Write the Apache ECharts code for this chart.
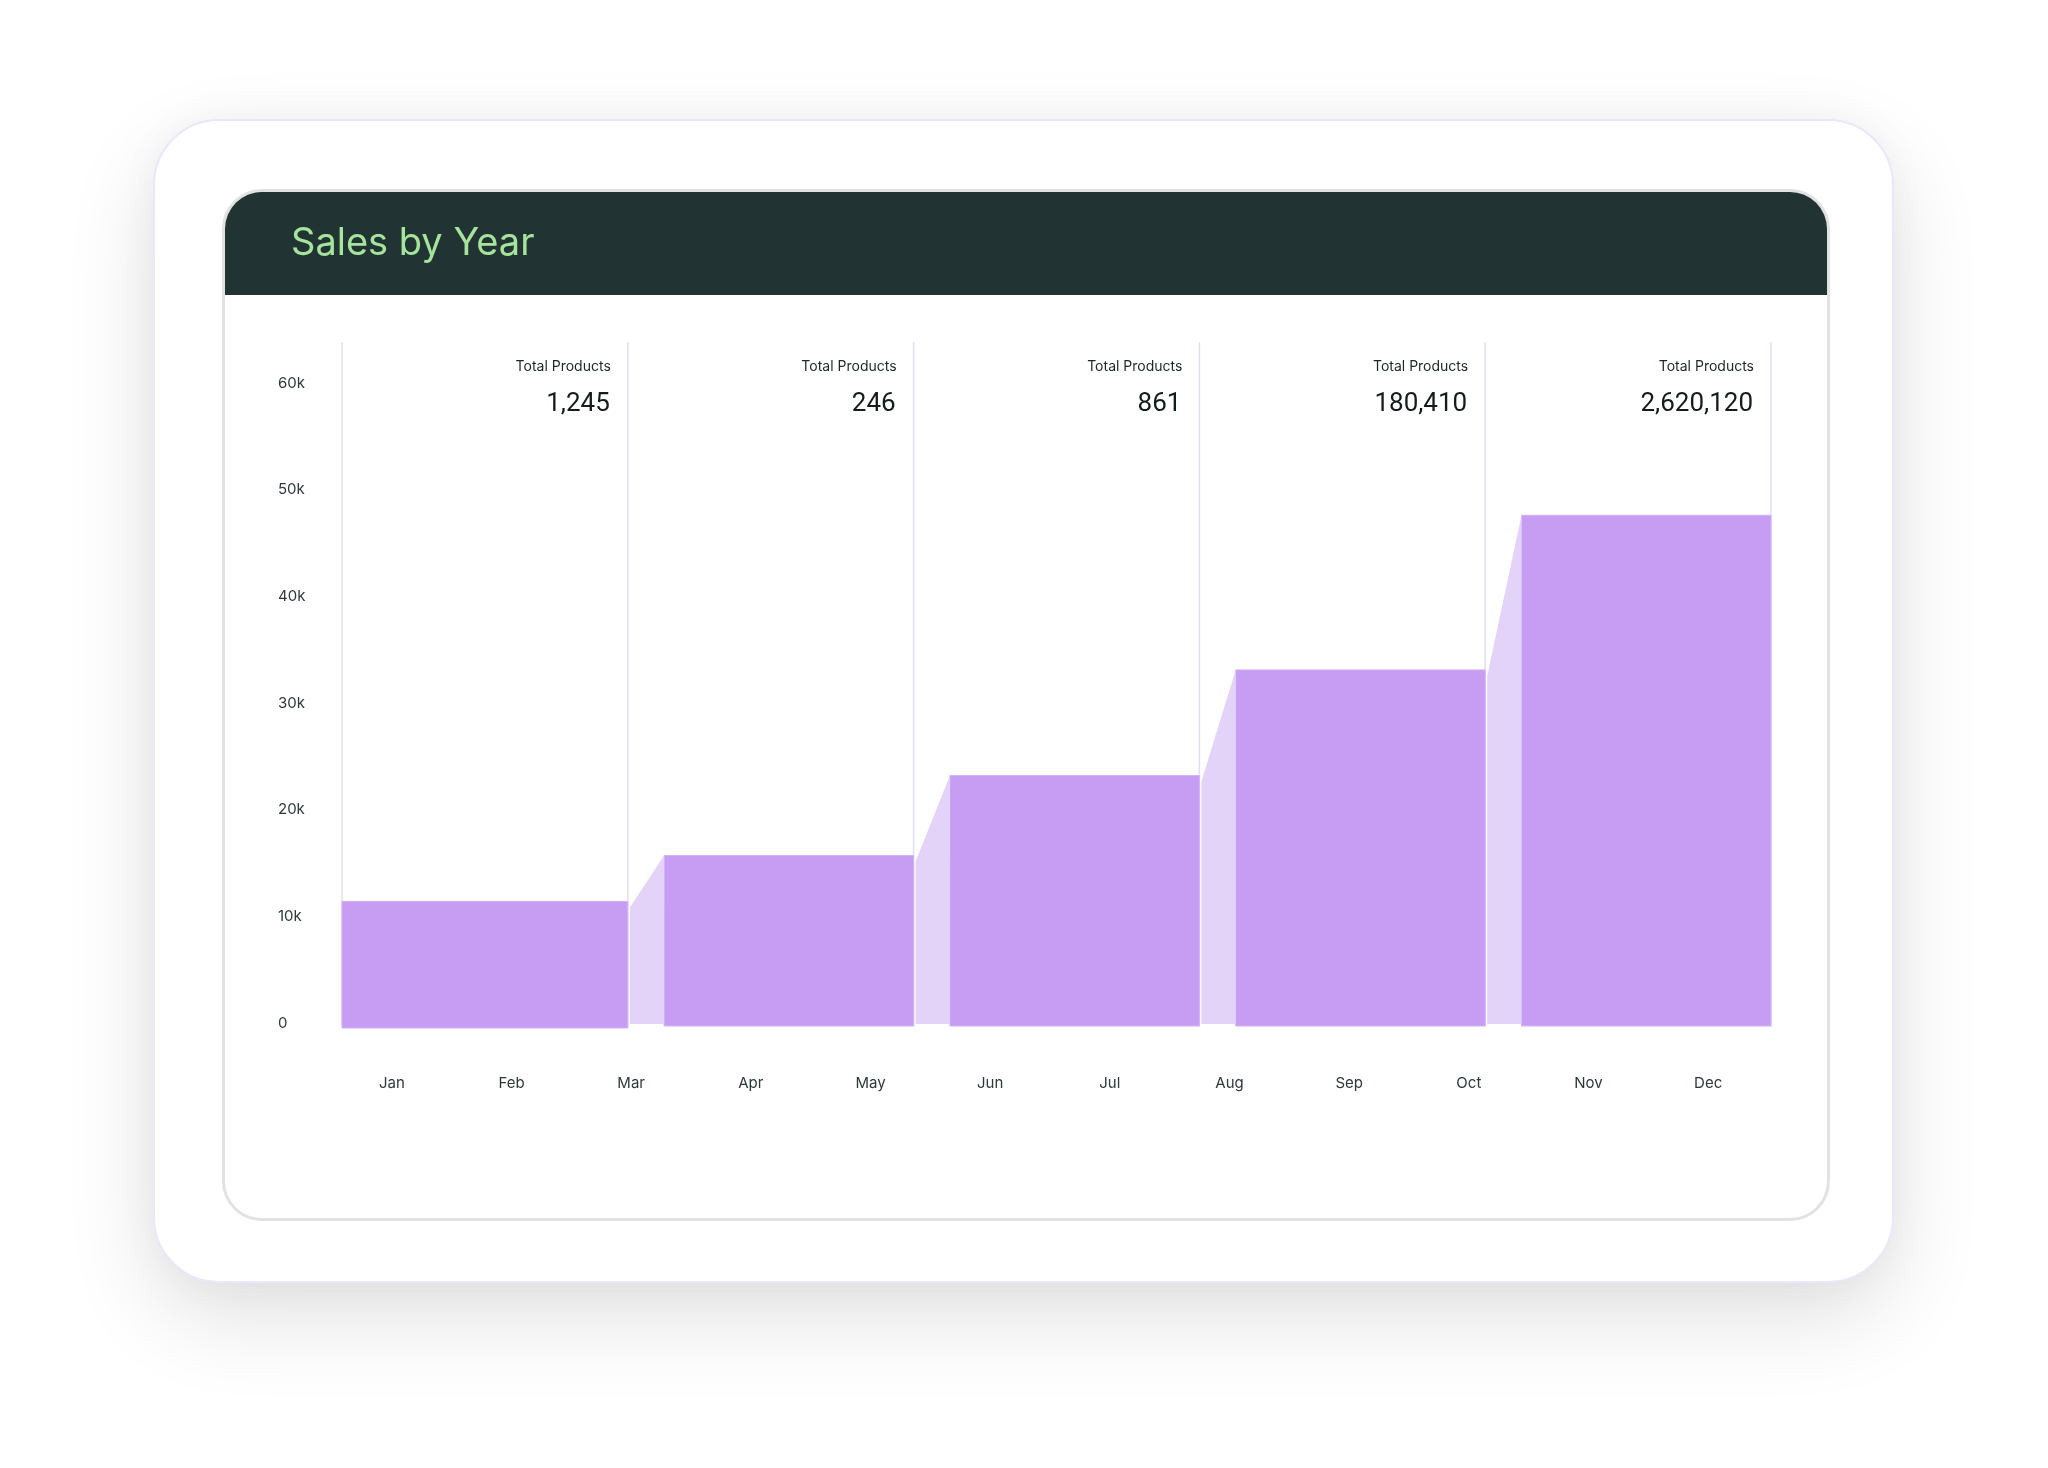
<!DOCTYPE html>
<html>
<head>
<meta charset="utf-8">
<script src="https://cdn.jsdelivr.net/npm/echarts@6/dist/echarts.min.js"></script>
<style>
  * { box-sizing: border-box; }
  body { margin: 0; width: 2048px; height: 1468px; background: #fff; position: relative; overflow: hidden; font-family: Inter, sans-serif; }
  #card { position: absolute; left: 153px; top: 119px; width: 1741px; height: 1164px; border-radius: 66px; background: #fff; border: 2px solid #ece6fb; box-shadow: 0 34px 90px rgba(0,0,0,0.12), 0 0 40px rgba(0,0,0,0.04); }
  #panel { position: absolute; left: 222px; top: 189px; width: 1608px; height: 1032px; border-radius: 40px; border: 3px solid #e2e2e2; background: #fff; overflow: hidden; }
  #panel .head { height: 103px; background: #213433; }
  #chart { position: absolute; left: 0; top: 0; width: 2048px; height: 1468px; }
</style>
</head>
<body>
<div id="card"></div>
<div id="panel"><div class="head"></div></div>
<div id="chart"></div>
<script>
// chart data
var panelTitle = 'Sales by Year';
var months = ['Jan', 'Feb', 'Mar', 'Apr', 'May', 'Jun', 'Jul', 'Aug', 'Sep', 'Oct', 'Nov', 'Dec'];
var salesValues = [11400, 15700, 23200, 33100, 47600];
var totalProducts = [1245, 246, 861, 180410, 2620120];
var sectionLabel = 'Total Products';
var boundaries = [0, 1, 2, 3, 4, 5];

var connectorFrac = 0.127;
var barColor = '#c79df3';
var connectorColor = '#e4d3f9';

var chart = echarts.init(document.getElementById('chart'), null, { renderer: 'canvas' });

var option = {
    animation: false,
    title: {
        text: panelTitle,
        left: 286,
        top: 220,
        textStyle: { color: '#a6e39c', fontSize: 38, fontWeight: 'normal', fontFamily: 'Inter' }
    },
    grid: [
        { left: 342, right: 277, top: 383, bottom: 445 },
        { left: 332, right: 280, top: 383, bottom: 445 }
    ],
    xAxis: [
        { type: 'value', gridIndex: 0, min: 0, max: 5, show: false },
        {
            type: 'category', gridIndex: 1, data: months,
            axisLine: { show: false }, axisTick: { show: false },
            axisLabel: { margin: 53, color: '#2e3838', fontSize: 15, fontFamily: 'Inter' }
        }
    ],
    yAxis: [
        {
            type: 'value', gridIndex: 0, min: 0, max: 60000, interval: 10000,
            axisLine: { show: false }, axisTick: { show: false }, splitLine: { show: false },
            axisLabel: {
                align: 'left', margin: 64, color: '#2e3838', fontSize: 15, fontFamily: 'Inter',
                formatter: function(v) { return v === 0 ? '0' : (v / 1000) + 'k'; }
            }
        },
        { type: 'value', gridIndex: 1, show: false }
    ],
    series: [
        {
            // vertical separators
            type: 'custom', xAxisIndex: 0, yAxisIndex: 0, z: 1,
            data: boundaries,
            renderItem: function(params, api) {
                var b = api.value(0);
                var base = api.coord([b, 0]);
                return {
                    type: 'line',
                    shape: { x1: base[0], y1: params.coordSys.y - 41, x2: base[0], y2: base[1] + 4 },
                    style: { stroke: '#e3dcf5', lineWidth: 1.5 }
                };
            }
        },
        {
            // stepped bars + connectors
            type: 'custom', xAxisIndex: 0, yAxisIndex: 0, z: 2,
            data: salesValues.map(function(v, i) { return [i, v, i > 0 ? salesValues[i - 1] : 0]; }),
            renderItem: function(params, api) {
                var i = api.value(0), v = api.value(1), pv = api.value(2);
                var gap = i === 0 ? 0 : connectorFrac;
                var tl = api.coord([i + gap, v]);
                var br = api.coord([i + 1, 0]);
                var children = [{
                    type: 'rect',
                    shape: { x: tl[0], y: tl[1], width: br[0] - tl[0], height: br[1] - tl[1] + (i === 0 ? 5 : 3) },
                    style: { fill: barColor, stroke: '#d2b2f7', lineWidth: 1 }
                }];
                if (i > 0) {
                    var p1 = api.coord([i, pv]);
                    var p2 = api.coord([i + gap, v]);
                    var p3 = api.coord([i + gap, 0]);
                    var p4 = api.coord([i, 0]);
                    children.push({
                        type: 'polygon',
                        shape: { points: [[p1[0] + 2, p1[1] + 6], p2, [p3[0], p3[1] + 1], [p4[0] + 2, p4[1] + 1]] },
                        style: { fill: connectorColor }
                    });
                }
                return { type: 'group', children: children };
            }
        },
        {
            // section headers
            type: 'custom', xAxisIndex: 0, yAxisIndex: 0, z: 3,
            data: totalProducts.map(function(t, i) { return [i, t]; }),
            renderItem: function(params, api) {
                var i = api.value(0), t = api.value(1);
                var right = api.coord([i + 1, 0])[0] - 18;
                var top = params.coordSys.y;
                return {
                    type: 'group',
                    children: [
                        {
                            type: 'text',
                            style: { x: right + 1, y: top - 16, text: sectionLabel, align: 'right', verticalAlign: 'middle',
                                     fill: '#1f2626', fontSize: 14, fontFamily: 'Inter' }
                        },
                        {
                            type: 'text',
                            style: { x: right, y: top + 21, text: t.toLocaleString('en-US'), align: 'right', verticalAlign: 'middle',
                                     fill: '#141c1b', fontSize: 26, fontFamily: 'Roboto', fontWeight: 'normal' }
                        }
                    ]
                };
            }
        }
    ]
};

chart.setOption(option);
</script>
</body>
</html>
